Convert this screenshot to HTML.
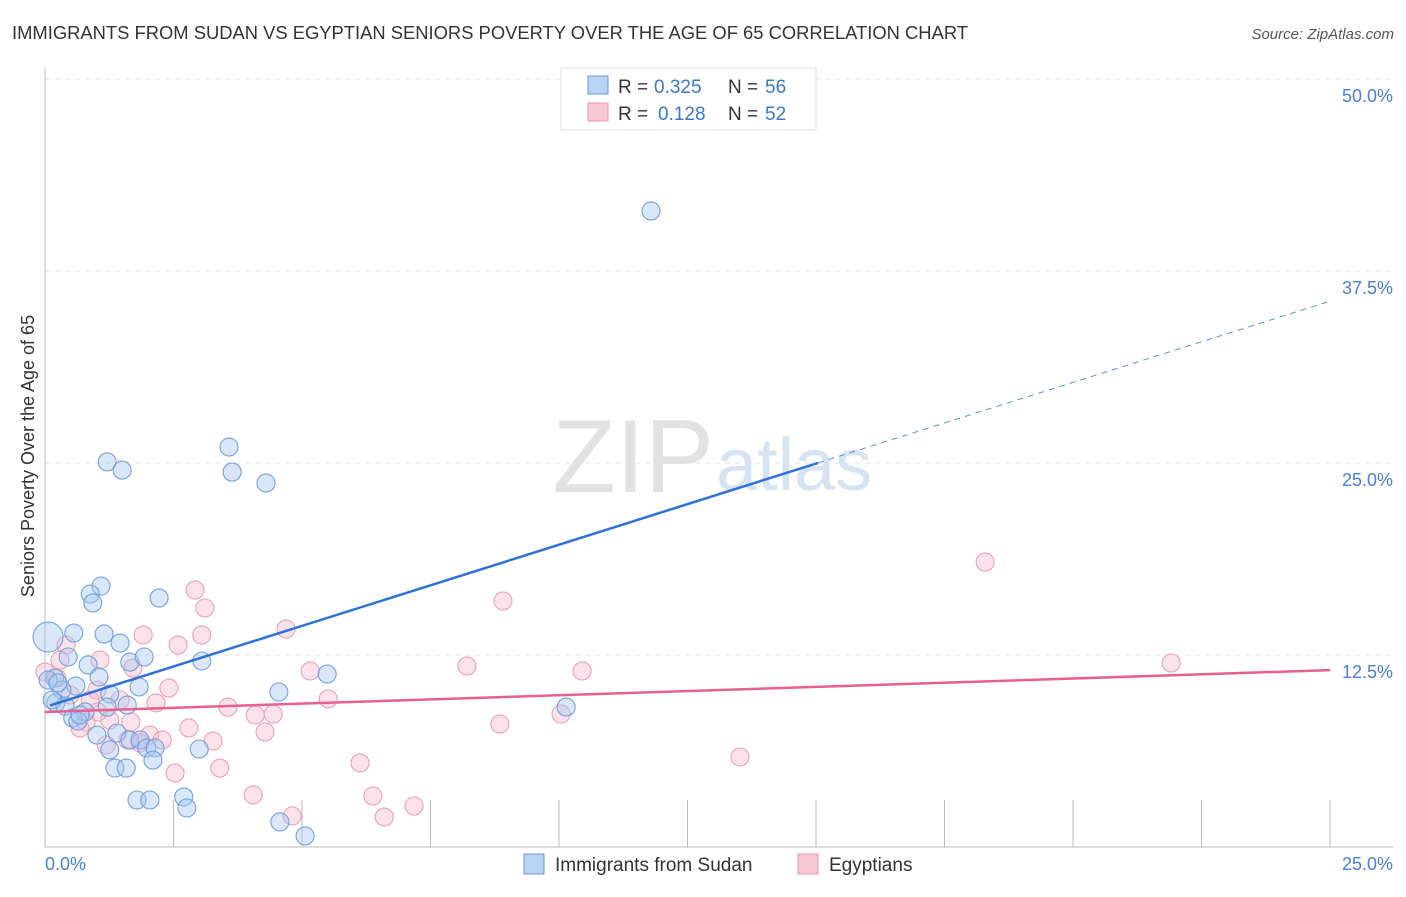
<!DOCTYPE html>
<html><head><meta charset="utf-8"><style>
body{margin:0;background:#fff;font-family:"Liberation Sans",sans-serif;}
svg text{font-family:"Liberation Sans",sans-serif;}
</style></head><body>
<svg width="1406" height="892" viewBox="0 0 1406 892">
<text x="12" y="39" font-size="18" fill="#333" textLength="956" lengthAdjust="spacingAndGlyphs">IMMIGRANTS FROM SUDAN VS EGYPTIAN SENIORS POVERTY OVER THE AGE OF 65 CORRELATION CHART</text>
<text x="1394" y="39" font-size="15" fill="#555" text-anchor="end" font-style="italic">Source: ZipAtlas.com</text>
<g id="grid"></g>
<text x="714" y="492" font-size="104" fill="#e2e2e2" text-anchor="end" font-family="Liberation Serif">ZIP</text>
<text x="716" y="490" font-size="74" fill="#d6e3f3">atlas</text>
<g id="pts"></g>
<g id="lines"></g>
<text transform="translate(34,456) rotate(-90)" font-size="18" fill="#333" text-anchor="middle">Seniors Poverty Over the Age of 65</text>
<text x="45" y="870" font-size="18" fill="#4a7fd4">0.0%</text>
<text x="1393" y="870" font-size="18" fill="#4a7fd4" text-anchor="end">25.0%</text>
<g>
<rect x="561" y="68" width="255" height="62" fill="#fff" stroke="#ddd"/>
<rect x="588" y="76" width="20" height="18" fill="#b9d3f5" stroke="#6a9ad9"/>
<rect x="588" y="103" width="20" height="18" fill="#f9c8d6" stroke="#e896ad"/>
<text x="618" y="93" font-size="19" fill="#333">R =</text>
<text x="654" y="93" font-size="19" fill="#3a78d0">0.325</text>
<text x="728" y="93" font-size="19" fill="#333">N =</text>
<text x="765" y="93" font-size="19" fill="#3a78d0">56</text>
<text x="618" y="120" font-size="19" fill="#333">R =</text>
<text x="658" y="120" font-size="19" fill="#3a78d0">0.128</text>
<text x="728" y="120" font-size="19" fill="#333">N =</text>
<text x="765" y="120" font-size="19" fill="#3a78d0">52</text>
</g>
<g>
<rect x="524" y="854" width="20" height="20" fill="#b9d3f5" stroke="#6a9ad9"/>
<text x="555" y="871" font-size="19" fill="#333">Immigrants from Sudan</text>
<rect x="798" y="854" width="20" height="20" fill="#f9c8d6" stroke="#e896ad"/>
<text x="829" y="871" font-size="19" fill="#333">Egyptians</text>
</g>
</svg>
<script>
const yTicks=[12.5,25,37.5,50];
const yTickLabels=["12.5%","25.0%","37.5%","50.0%"];
const xTicks=[2.5,5,7.5,10,12.5,15,17.5,20,22.5,25];
const sudanX=[1.21,1.50,3.58,3.64,4.30,11.79,1.09,0.88,0.93,2.22,0.56,1.15,1.46,0.06,0.45,0.84,1.65,1.93,3.05,0.19,1.05,0.60,0.33,1.26,1.83,4.55,5.49,0.21,0.39,0.78,1.60,0.54,0.64,1.01,1.40,1.65,1.85,1.98,2.14,2.10,3.00,1.26,1.36,1.58,1.79,2.04,2.70,2.76,4.57,5.06,10.14,0.06,0.25,0.14,0.68,1.21];
const sudanY=[25.07,24.54,26.04,24.41,23.70,41.41,16.99,16.47,15.89,16.21,13.93,13.87,13.28,13.67,12.37,11.85,12.04,12.37,12.11,11.00,11.07,10.48,10.22,9.96,10.42,10.09,11.26,9.38,9.18,8.79,9.24,8.40,8.20,7.29,7.42,6.97,6.97,6.45,6.45,5.66,6.38,6.32,5.14,5.14,3.06,3.06,3.26,2.54,1.63,0.72,9.11,10.87,10.68,9.57,8.59,9.11];
const egyX=[2.92,3.11,4.69,8.91,18.29,21.91,1.91,2.59,3.05,0.41,1.07,0.23,0.00,1.71,2.41,5.16,5.51,8.21,10.45,0.88,1.01,0.49,1.46,2.16,3.56,4.09,4.44,2.80,8.85,10.04,0.80,1.26,1.67,2.04,2.28,3.27,4.28,1.61,1.19,6.13,3.40,2.53,13.52,4.05,4.81,6.38,6.60,7.18,0.68,0.29,1.03,1.85];
const egyY=[16.73,15.56,14.19,16.02,18.55,11.98,13.80,13.15,13.80,13.15,12.17,11.00,11.39,11.65,10.35,11.46,9.64,11.78,11.46,9.57,10.22,9.90,9.57,9.38,9.11,8.59,8.66,7.75,8.01,8.66,8.14,8.27,8.14,7.29,6.97,6.90,7.49,6.97,6.64,5.47,5.14,4.82,5.86,3.39,2.02,3.32,1.95,2.67,7.75,12.17,8.79,6.77];
const sudanFit=[9.11,1.057];
const egyFit=[8.79,0.109];
const X=v=>45+v/25*1285, Y=v=>847-v/12.5*192;
const NS="http://www.w3.org/2000/svg";
function mk(t,a,p){const e=document.createElementNS(NS,t);for(const k in a)e.setAttribute(k,a[k]);p.appendChild(e);return e;}
const g=document.getElementById('grid');
yTicks.forEach((t,i)=>{
 const l=mk('line',{x1:45,x2:1393,y1:Y(t),y2:Y(t),stroke:'#e2e2e2','stroke-dasharray':'5,5'},g);
 
 
 const tx=mk('text',{x:1393,y:Y(t)+23,'font-size':18,fill:'#4a7fd4','text-anchor':'end'},g);
 tx.textContent=yTickLabels[i];
 
 
});
xTicks.forEach(t=>{
 const l=mk('line',{x1:X(t),x2:X(t),y1:800,y2:847,stroke:'#bbb'},g);
 
 
});
const ax=mk('path',{d:'M45 68V847H1393',fill:'none',stroke:'#bbb'},g);


const p=document.getElementById('pts');
egyX.forEach((x,i)=>{
 const c=mk('circle',{cx:X(x),cy:Y(egyY[i]),r:9,fill:'rgba(247,185,205,0.4)',stroke:'#ec9fb6','stroke-width':1.1},p);
 
 
});
sudanX.forEach((x,i)=>{
 const c=mk('circle',{cx:X(x),cy:Y(sudanY[i]),r:i==13?15:9,fill:'rgba(165,198,240,0.42)',stroke:'#74a0dc','stroke-width':1.1},p);
 
 
});
const L=document.getElementById('lines');
const xs=0.1,xe=15.04;
let a=mk('line',{x1:X(xs),y1:Y(sudanFit[0]+sudanFit[1]*xs),x2:X(xe),y2:Y(sudanFit[0]+sudanFit[1]*xe),stroke:'#2e72d8','stroke-width':2.5},L);


a=mk('line',{x1:X(xe),y1:Y(sudanFit[0]+sudanFit[1]*xe),x2:X(25),y2:Y(sudanFit[0]+sudanFit[1]*25),stroke:'#5b8fdc','stroke-width':1,'stroke-dasharray':'6,5'},L);


a=mk('line',{x1:X(0),y1:Y(egyFit[0]),x2:X(25),y2:Y(egyFit[0]+egyFit[1]*25),stroke:'#e8608e','stroke-width':2.5},L);


</script>
</body></html>
